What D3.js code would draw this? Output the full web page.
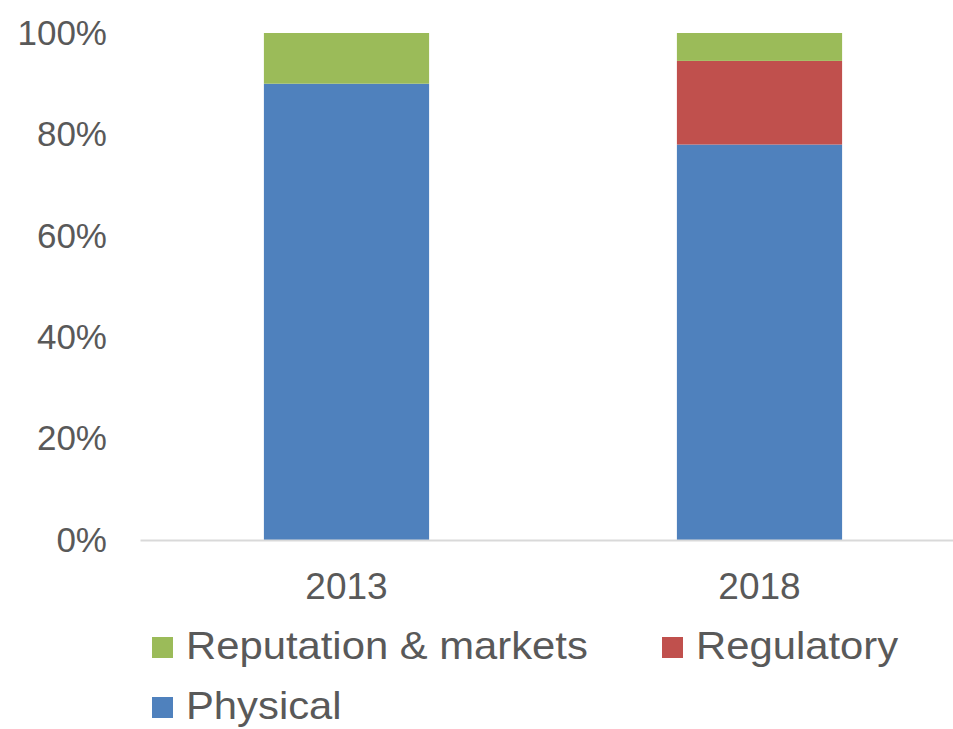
<!DOCTYPE html>
<html>
<head>
<meta charset="utf-8">
<script src="https://cdn.jsdelivr.net/npm/d3@7"></script>
<style>
  body { margin: 0; background: #fff; }
  text { font-family: "Liberation Sans", Arial, sans-serif; fill: #595959; }
</style>
</head>
<body>
<div id="chart"></div>
<script>
// data
var years = ["2013", "2018"];
var physical = [90, 78];
var regulatory = [0, 16.5];
var reputation = [10, 5.5];
var yTicks = [0, 20, 40, 60, 80, 100];

var seriesNames = ["Physical", "Regulatory", "Reputation & markets"];
var seriesColors = ["#4f81bd", "#c0504d", "#9bbb59"];

var width = 953, height = 729;
var margin = {top: 33, bottom: 189, left: 140, right: -13};

var rows = years.map(function(y, i) {
    return {year: y, "Physical": physical[i], "Regulatory": regulatory[i], "Reputation & markets": reputation[i]};
});
var stacked = d3.stack().keys(seriesNames)(rows);

var svg = d3.select("#chart")
    .append("svg")
    .attr("width", width)
    .attr("height", height);

var x = d3.scaleBand()
    .domain(years)
    .range([margin.left, width - margin.right])
    .paddingInner(0.6)
    .paddingOuter(0.3);

var y = d3.scaleLinear()
    .domain([0, 100])
    .range([height - margin.bottom, margin.top]);

// bars
svg.append("g").selectAll("g")
    .data(stacked)
    .enter()
    .append("g")
    .attr("fill", function(d, i) { return seriesColors[i]; })
    .selectAll("rect")
    .data(function(d) { return d; })
    .enter()
    .append("rect")
    .attr("x", function(d) { return x(d.data.year); })
    .attr("y", function(d) { return y(d[1]); })
    .attr("height", function(d) { return y(d[0]) - y(d[1]); })
    .attr("width", x.bandwidth());

// y axis
var yAxis = d3.axisLeft(y)
    .tickValues(yTicks)
    .tickSize(0)
    .tickPadding(33)
    .tickFormat(function(d) { return d + "%"; });

var gy = svg.append("g")
    .attr("transform", "translate(" + margin.left + ",0)")
    .call(yAxis);
gy.select(".domain").remove();
gy.selectAll("text")
    .style("font-size", "35px")
    .attr("fill", "#595959");

// x axis
var xAxis = d3.axisBottom(x).tickSize(0).tickPadding(33);
var gx = svg.append("g")
    .attr("transform", "translate(0," + y(0) + ")")
    .call(xAxis);
gx.select(".domain").attr("stroke", "#d9d9d9").attr("stroke-width", 2);
gx.selectAll("text")
    .style("font-size", "37px")
    .attr("fill", "#595959");

// legend (text in the picture is a bit wider than plain Arial)
var legendItems = [
    {name: "Reputation & markets", color: seriesColors[2], x: 152, y: 637},
    {name: "Regulatory", color: seriesColors[1], x: 662, y: 637},
    {name: "Physical", color: seriesColors[0], x: 152, y: 697}
];
var legend = svg.append("g").selectAll("g")
    .data(legendItems)
    .enter()
    .append("g")
    .attr("transform", function(d) { return "translate(" + d.x + "," + d.y + ")"; });
legend.append("rect")
    .attr("width", 21)
    .attr("height", 21)
    .attr("fill", function(d) { return d.color; });
legend.append("text")
    .attr("transform", "translate(34,22) scale(1.1,1)")
    .style("font-size", "38px")
    .text(function(d) { return d.name; });
</script>
</body>
</html>
